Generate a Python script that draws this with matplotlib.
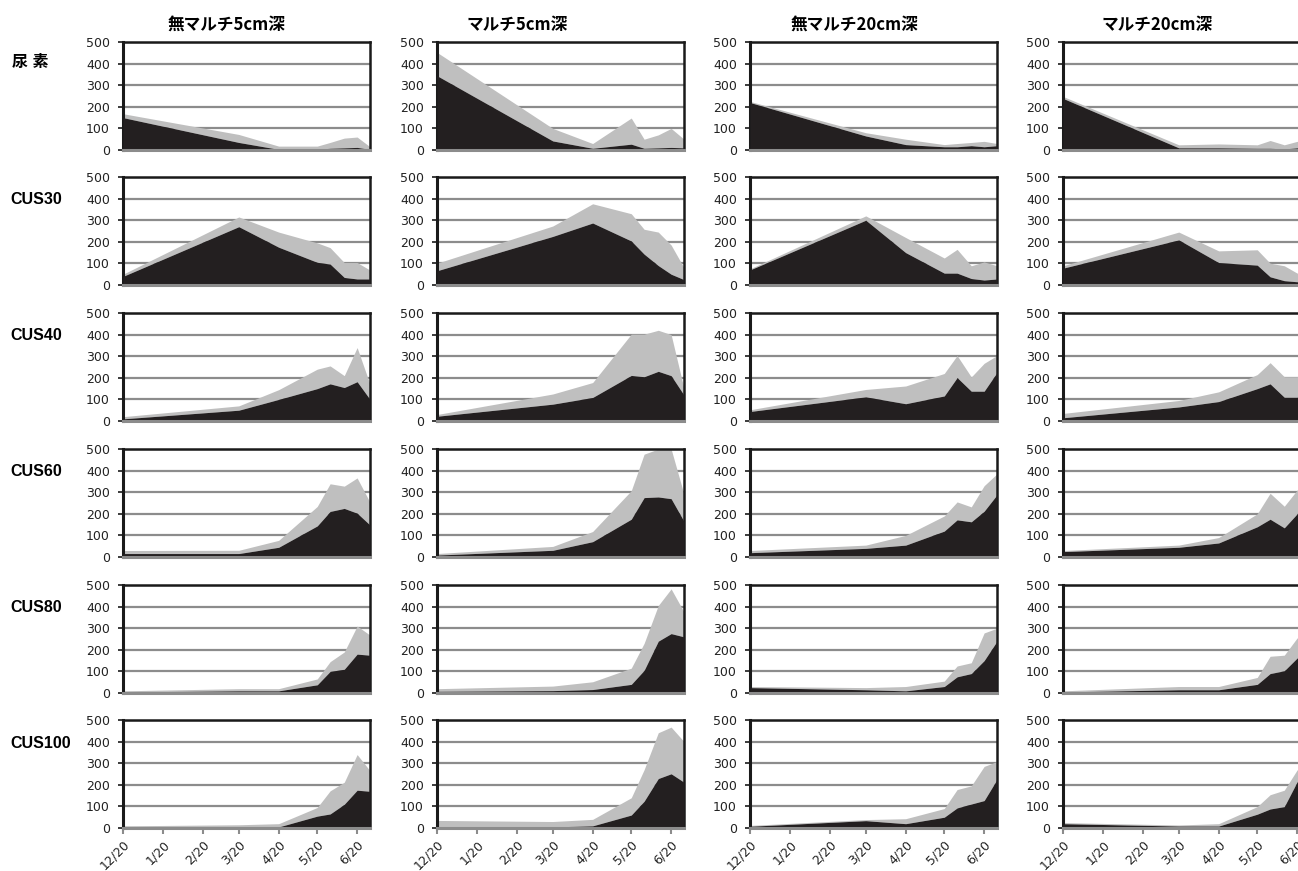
import numpy as np
import pandas as pd
import matplotlib
matplotlib.use("Agg")
import matplotlib.pyplot as plt

plt.rcParams['font.family'] = ['DejaVu Sans']

# sampling dates and axis ticks
dates = pd.to_datetime(["2010-12-20", "2011-03-20", "2011-04-20", "2011-05-20",
                        "2011-05-30", "2011-06-10", "2011-06-20", "2011-06-30"])
tick_dates = pd.to_datetime(["2010-12-20", "2011-01-20", "2011-02-20", "2011-03-20",
                             "2011-04-20", "2011-05-20", "2011-06-20"])
tick_labels = ["12/20", "1/20", "2/20", "3/20", "4/20", "5/20", "6/20"]
y_ticks = [0, 100, 200, 300, 400, 500]

col_titles = ["無マルチ5cm深", "マルチ5cm深", "無マルチ20cm深", "マルチ20cm深"]
row_labels = ["尿 素", "CUS30", "CUS40", "CUS60", "CUS80", "CUS100"]

# black = lower part, total = top of grey part; one list per column
urea_black = [[150, 35, 3, 3, 8, 10, 12, 3],
              [344, 42, 8, 27, 8, 10, 12, 10],
              [220, 65, 25, 15, 15, 20, 15, 20],
              [239, 10, 10, 8, 8, 5, 10, 20]]
urea_total = [[168, 72, 18, 18, 35, 55, 60, 15],
              [452, 100, 30, 148, 50, 70, 100, 50],
              [225, 80, 50, 25, 30, 35, 40, 30],
              [248, 24, 28, 24, 44, 24, 40, 45]]

cus30_black = [[40, 270, 175, 105, 97, 35, 28, 28],
               [66, 225, 287, 204, 143, 90, 50, 25],
               [70, 300, 150, 55, 55, 30, 23, 28],
               [78, 209, 104, 92, 38, 20, 15, 40]]
cus30_total = [[50, 315, 245, 195, 173, 104, 104, 69],
               [101, 273, 376, 330, 258, 245, 185, 80],
               [75, 320, 220, 125, 165, 89, 107, 89],
               [89, 245, 158, 163, 101, 89, 55, 80]]

cus40_black = [[10, 50, 100, 150, 172, 155, 182, 100],
               [22, 78, 109, 211, 205, 230, 210, 120],
               [44, 112, 80, 116, 201, 138, 138, 225],
               [15, 65, 90, 150, 172, 110, 110, 175]]
cus40_total = [[20, 70, 145, 240, 255, 210, 340, 170],
               [30, 125, 178, 402, 402, 420, 400, 150],
               [52, 146, 162, 220, 303, 204, 267, 303],
               [35, 95, 135, 215, 270, 205, 205, 260]]

cus60_black = [[16, 16, 45, 144, 211, 225, 203, 148],
               [9, 31, 71, 175, 275, 278, 270, 165],
               [20, 40, 55, 120, 172, 163, 212, 288],
               [25, 45, 65, 140, 175, 135, 200, 330]]
cus60_total = [[30, 31, 77, 234, 339, 328, 366, 253],
               [16, 49, 118, 307, 476, 500, 500, 290],
               [30, 55, 100, 190, 255, 232, 330, 385],
               [30, 55, 90, 200, 295, 235, 310, 370]]

cus80_black = [[5, 10, 10, 38, 100, 110, 180, 175],
               [8, 11, 16, 40, 105, 240, 275, 260],
               [25, 15, 10, 30, 75, 90, 150, 240],
               [5, 15, 15, 40, 90, 103, 162, 210]]
cus80_total = [[10, 20, 20, 65, 145, 190, 310, 268],
               [20, 32, 52, 115, 230, 405, 482, 375],
               [30, 25, 30, 55, 125, 140, 278, 300],
               [10, 30, 30, 72, 170, 175, 255, 250]]

cus100_black = [[5, 5, 5, 55, 65, 110, 175, 170],
                [5, 5, 10, 60, 124, 229, 251, 212],
                [8, 34, 20, 50, 93, 111, 127, 225],
                [20, 9, 9, 64, 88, 99, 214, 280]]
cus100_total = [[10, 15, 20, 95, 172, 212, 340, 265],
                [35, 30, 40, 140, 270, 441, 467, 400],
                [12, 39, 43, 90, 178, 195, 285, 308],
                [25, 14, 20, 99, 154, 175, 269, 300]]

blacks = [urea_black, cus30_black, cus40_black, cus60_black, cus80_black, cus100_black]
totals = [urea_total, cus30_total, cus40_total, cus60_total, cus80_total, cus100_total]

W, H = 1298, 871
fig = plt.figure(figsize=(W / 100, H / 100), dpi=100)

col_left = [123, 437, 750, 1063]
row_top = [42, 177, 313, 449, 585, 720]
ax_w, ax_h = 247, 108

black_col = '#231f20'
grey_col = '#bfbfbf'
grid_col = '#8c8c8c'

for r in range(6):
    for c in range(4):
        ax = fig.add_axes([col_left[c] / W, 1 - (row_top[r] + ax_h) / H, ax_w / W, ax_h / H])
        lo = np.array(blacks[r][c])
        hi = np.array(totals[r][c])
        ax.fill_between(dates, lo, hi, color=grey_col, lw=0, zorder=2)
        ax.fill_between(dates, 0, lo, color=black_col, lw=0, zorder=3)
        ax.set_xlim(dates[0], dates[-1])
        ax.set_ylim(0, 500)
        ax.set_yticks(y_ticks)
        ax.yaxis.grid(True, color=grid_col, lw=1.6)
        ax.set_axisbelow(True)
        for s in ['left', 'top', 'right']:
            ax.spines[s].set_color('#1a1a1a')
            ax.spines[s].set_linewidth(1.8)
        ax.spines['left'].set_linewidth(2.2)
        ax.spines['bottom'].set_color(grid_col)
        ax.spines['bottom'].set_linewidth(2.2)
        ax.spines['bottom'].set_zorder(5)
        ax.tick_params(axis='y', length=3.5, width=1.2, color='#1a1a1a', pad=6,
                       labelsize=9, labelcolor='#222222')
        ax.set_xticks(tick_dates)
        if r == 5:
            ax.set_xticklabels(tick_labels, rotation=45, ha='right', rotation_mode='anchor')
            ax.tick_params(axis='x', length=4, width=1.5, color=grid_col, pad=3,
                           labelsize=9, labelcolor='#222222')
        else:
            ax.set_xticklabels([])
            ax.tick_params(axis='x', length=0)

title_x = [226, 517, 854, 1157]
for c in range(4):
    fig.text(title_x[c] / W, 1 - 25 / H, col_titles[c], ha='center', va='center',
             fontsize=12, fontweight='bold', family=['Noto Sans CJK JP', 'DejaVu Sans'])

label_x = [12, 10, 10, 10, 10, 10]
label_y = [62, 199, 335, 471, 607, 743]
for r in range(6):
    fig.text(label_x[r] / W, 1 - label_y[r] / H, row_labels[r], ha='left', va='center',
             fontsize=11.5, fontweight='bold', family=['Liberation Sans', 'Noto Sans CJK JP'])

fig.savefig('out.png', dpi=100)
